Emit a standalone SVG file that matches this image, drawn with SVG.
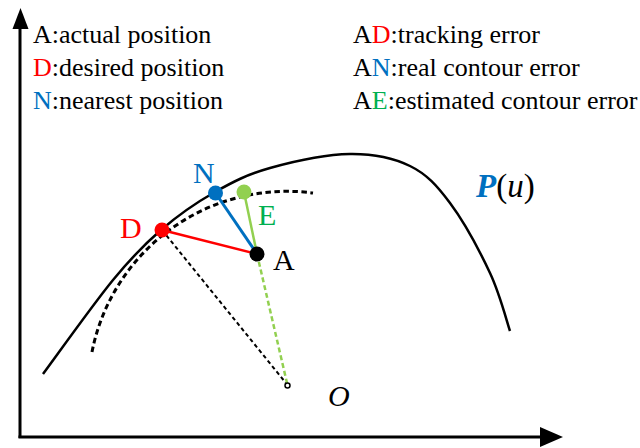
<svg xmlns="http://www.w3.org/2000/svg" width="640" height="448" viewBox="0 0 640 448">
<style>
text{font-family:"Liberation Serif","Times New Roman",serif;fill:#000}
.lg{font-size:26px}
.lb{font-size:30px}
.red{fill:#FF0000}
.blue{fill:#0070C0}
.grn{fill:#00B050}
</style>
<rect width="640" height="448" fill="#fff"/>
<g id="axes">
<line x1="20" y1="438" x2="20" y2="26" stroke="#000" stroke-width="3"/>
<polygon points="20.5,8 12.5,29 28.5,29" fill="#000"/>
<line x1="18.5" y1="437" x2="542" y2="437" stroke="#000" stroke-width="3"/>
<polygon points="563,437 540,427 540,447" fill="#000"/>
</g>
<g id="legend">
<text class="lg" x="33" y="43">A:actual position</text>
<text class="lg" x="33" y="76"><tspan class="red">D</tspan>:desired position</text>
<text class="lg" x="33" y="109"><tspan class="blue">N</tspan>:nearest position</text>
<text class="lg" x="353" y="43">A<tspan class="red">D</tspan>:tracking error</text>
<text class="lg" x="353" y="76">A<tspan class="blue">N</tspan>:real contour error</text>
<text class="lg" x="353" y="109">A<tspan class="grn">E</tspan>:estimated contour error</text>
</g>
<g id="curve-P">
<path d="M43,374 C54.7,358.3 93.3,304 113,280 C132.7,256 144,244.7 161,230 C178,215.3 196.8,202.3 215,192 C233.2,181.7 247.5,174.3 270,168 C292.5,161.7 326.7,154.3 350,154 C373.3,153.7 393.3,157.8 410,166 C426.7,174.2 436.7,185.2 450,203 C463.3,220.8 480,251.7 490,273 C500,294.3 506.7,321.3 510,331" fill="none" stroke="#000" stroke-width="2.5"/>
<text x="476" y="197" font-size="33"><tspan font-weight="bold" font-style="italic" fill="#0070C0">P</tspan>(<tspan font-style="italic">u</tspan>)</text>
</g>
<g id="circle-arc">
<path d="M92,352 A199,199 0 0 1 313,193" fill="none" stroke="#000" stroke-width="3" stroke-dasharray="5.5 3.5"/>
</g>
<g id="connectors">
<line x1="162" y1="230" x2="287.5" y2="385" stroke="#000" stroke-width="2" stroke-dasharray="4 3"/>
<line x1="257" y1="254" x2="287" y2="383" stroke="#92D050" stroke-width="2.5" stroke-dasharray="5 3"/>
<line x1="162" y1="230" x2="257" y2="254" stroke="#FF0000" stroke-width="2.5"/>
<line x1="215.5" y1="193" x2="257" y2="254" stroke="#0070C0" stroke-width="3"/>
<line x1="244" y1="192" x2="257" y2="254" stroke="#92D050" stroke-width="2.5"/>
</g>
<g id="node-D">
<circle cx="162" cy="230" r="7.5" fill="#FF0000"/>
<text class="lb red" x="120" y="238">D</text>
</g>
<g id="node-N">
<circle cx="215.5" cy="193" r="7.5" fill="#0070C0"/>
<text class="lb blue" x="193" y="183">N</text>
</g>
<g id="node-E">
<circle cx="244" cy="192" r="7.5" fill="#92D050"/>
<text class="lb grn" x="258" y="225">E</text>
</g>
<g id="node-A">
<circle cx="257" cy="254" r="7.5" fill="#000"/>
<text class="lb" x="273" y="270">A</text>
</g>
<g id="node-O">
<circle cx="287.5" cy="385.5" r="2.5" fill="#fff" stroke="#000" stroke-width="1.5"/>
<text class="lb" x="328" y="406" font-style="italic">O</text>
</g>
</svg>
